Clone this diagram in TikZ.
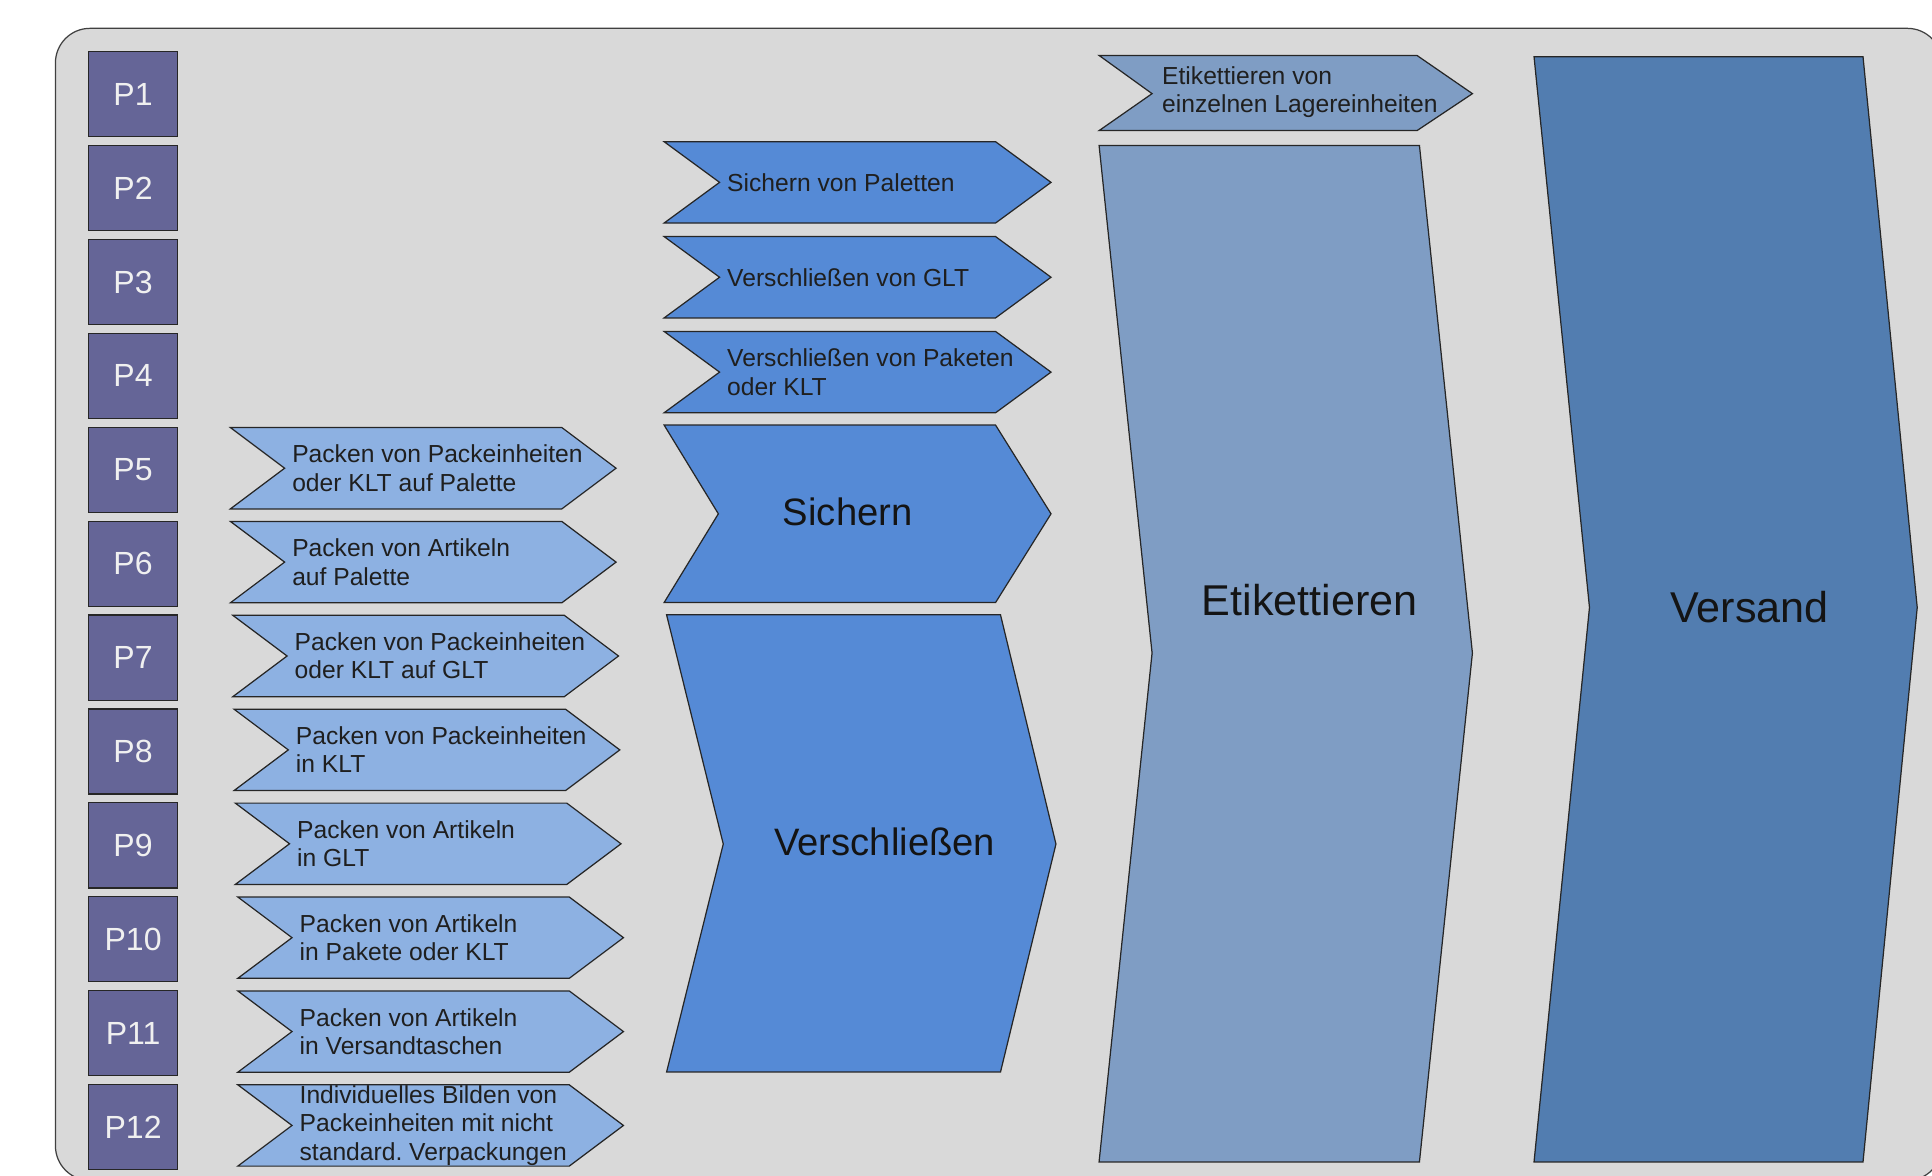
\documentclass[tikz,border=0pt]{standalone}
\usepackage{fontspec}
\setmainfont{Liberation Sans}
\usetikzlibrary{positioning}
\frenchspacing

\definecolor{bggray}{HTML}{D9D9D9}
\definecolor{pviolet}{HTML}{656597}
\definecolor{lightblue}{HTML}{8DB1E2}
\definecolor{midblue}{HTML}{558AD6}
\definecolor{etiblue}{HTML}{7F9DC4}
\definecolor{versblue}{HTML}{527DB0}

\tikzset{
  pbox/.style={draw=black!85,line width=1pt,fill=pviolet,minimum width=72pt,minimum height=69pt,
    inner sep=0pt,text=white!94!black,font=\fontsize{26}{30}\selectfont},
  chevron/.style={draw=black!85,line width=1pt},
  chevtext/.style={anchor=west,align=left,inner sep=0pt,text=black!88,font=\fontsize{20}{23}\selectfont},
  bigtext/.style={inner sep=0pt,text=black!92,font=\fontsize{31}{36}\selectfont},
}

\begin{document}
\begin{tikzpicture}[x=1pt,y=-1pt]
\useasboundingbox (0,0) rectangle (1568,954);
% background
\draw[fill=bggray,draw=black!75,line width=1pt,rounded corners=28pt] (45,23) rectangle (1576,958);

% process boxes
\foreach \i in {1,...,12}{
  \node[pbox] (p\i) at (108,{76.5+(\i-1)*76.2}) {P\i};
}

% packing steps
\foreach \i/\xa/\txt in {5/187/{Packen von Packeinheiten\\oder KLT auf Palette},
    6/187/{Packen von Artikeln\\auf Palette},
    7/189/{Packen von Packeinheiten\\oder KLT auf GLT},
    8/190/{Packen von Packeinheiten\\in KLT},
    9/191/{Packen von Artikeln\\in GLT},
    10/193/{Packen von Artikeln\\in Pakete oder KLT},
    11/193/{Packen von Artikeln\\in Versandtaschen},
    12/193/{Individuelles Bilden von\\Packeinheiten mit nicht\\standard. Verpackungen}}{
  \pgfmathsetmacro{\yt}{347+(\i-5)*76.2}
  \draw[chevron,fill=lightblue] (\xa,\yt) -- ++(269,0) -- ++(44,33) -- ++(-44,33)
    -- ++(-269,0) -- ++(44,-33) -- cycle;
  \node[chevtext] (pack\i) at (\xa+50,\yt+33) {\txt};
}

% securing / closing steps
\foreach \yt/\txt [count=\k] in {115/{Sichern von Paletten},
    192/{Verschließen von GLT},
    269/{Verschließen von Paketen\\oder KLT}}{
  \draw[chevron,fill=midblue] (539,\yt) -- ++(269,0) -- ++(45,33) -- ++(-45,33)
    -- ++(-269,0) -- ++(45,-33) -- cycle;
  \node[chevtext] (close\k) at (590,\yt+33) {\txt};
}

\draw[chevron,fill=midblue] (539,345) -- (808,345) -- (853,417) -- (808,489)
  -- (539,489) -- (583,417) -- cycle;
\node[bigtext] (sichern) at (688,415) {Sichern};

\draw[chevron,fill=midblue] (541,499) -- (812,499) -- (857,685) -- (812,870)
  -- (541,870) -- (587,685) -- cycle;
\node[bigtext] (verschl) at (718,683) {Verschließen};

% labelling
\draw[chevron,fill=etiblue] (892,45) -- (1150,45) -- (1195,76) -- (1150,106)
  -- (892,106) -- (935,76) -- cycle;
\node[chevtext] (etisingle) at (943,75) {Etikettieren von\\einzelnen Lagereinheiten};

\draw[chevron,fill=etiblue] (892,118) -- (1152,118) -- (1195,530) -- (1152,943)
  -- (892,943) -- (935,530) -- cycle;
\node[bigtext,font=\fontsize{35}{40}\selectfont] (etikett) at (1063,487) {Etikettieren};

% shipping
\draw[chevron,fill=versblue] (1245,46) -- (1512,46) -- (1556,493) -- (1512,943)
  -- (1245,943) -- (1290,493) -- cycle;
\node[bigtext,font=\fontsize{35}{40}\selectfont] (versand) at (1420,493) {Versand};
\end{tikzpicture}
\end{document}
